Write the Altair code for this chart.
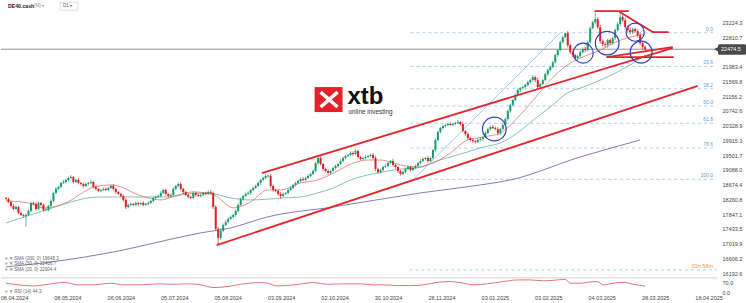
import altair as alt
import pandas as pd

FONT = "Liberation Sans"
W, H1, H2 = 717, 276, 15

# ---------------- data ----------------
OPEN_FIRST = 18300
CLOSE = [
    18276, 18192, 18080, 17996, 18052, 17884, 17828, 17800, 17828, 17940,
    18164, 18136, 17996, 18164, 18108, 17968, 17968, 18080, 18220, 18444,
    18556, 18612, 18724, 18752, 18808, 18864, 18892, 18752, 18808, 18724,
    18696, 18640, 18696, 18724, 18752, 18612, 18556, 18500, 18528, 18556,
    18528, 18584, 18640, 18556, 18472, 18416, 18360, 18248, 18052, 18108,
    18136, 18108, 18164, 18136, 18164, 18108, 18136, 18164, 18220, 18304,
    18332, 18360, 18444, 18528, 18416, 18360, 18388, 18556, 18640, 18696,
    18556, 18472, 18388, 18332, 18304, 18444, 18388, 18360, 18388, 18444,
    18416, 18472, 18444, 18052, 17436, 17184, 17380, 17548, 17632, 17716,
    17772, 17828, 17940, 18108, 18276, 18360, 18416, 18444, 18528, 18584,
    18640, 18724, 18808, 18864, 18920, 18920, 18640, 18528, 18500, 18416,
    18360, 18416, 18444, 18528, 18584, 18668, 18724, 18780, 18836, 18808,
    18864, 18920, 18976, 19060, 19284, 19424, 19256, 19116, 19060, 19004,
    19060, 19144, 19200, 19256, 19340, 19424, 19480, 19508, 19564, 19536,
    19620, 19452, 19396, 19424, 19452, 19480, 19508, 19424, 19116, 19032,
    19088, 19172, 19200, 19284, 19340, 19228, 19172, 19060, 18976, 19032,
    19116, 19172, 19088, 19144, 19200, 19284, 19340, 19396, 19424, 19340,
    19424, 19648, 19928, 20152, 20264, 20320, 20348, 20376, 20348, 20376,
    20404, 20432, 20376, 20180, 20096, 19984, 19928, 19900, 19872, 19928,
    19956, 20012, 20124, 20236, 20292, 20264, 20236, 20124, 20236, 20348,
    20516, 20740, 20908, 21048, 21188, 21328, 21384, 21412, 21468, 21552,
    21608, 21692, 21608, 21412, 21496, 21608, 21776, 21888, 21972, 22112,
    22308, 22448, 22672, 22812, 22924, 22588, 22392, 22308, 22224, 22280,
    22392, 22476, 22448, 22672, 23064, 23232, 23316, 23092, 22700, 22616,
    22588, 22728, 22644, 22784, 23008, 23176, 23372, 23288, 23092, 23008,
    22952, 23036, 22980, 22868, 22644, 22532, 22474.5,
]
WICK_UP = [
    30, 40, 30, 50, 40, 30, 40, 30, 40, 50,
    40, 30, 60, 40, 30, 40, 50, 30, 40, 30,
    50, 40, 30, 60, 40, 40, 50, 30, 40, 50,
    30, 40, 40, 30, 50, 30, 40, 30, 40, 40,
    40, 30, 40, 50, 30, 40, 30, 40, 50, 30,
    40, 30, 40, 30, 40, 50, 30, 40, 30, 40,
    30, 40, 50, 30, 40, 30, 40, 50, 30, 40,
    50, 40, 30, 40, 30, 40, 30, 40, 50, 30,
    30, 40, 60, 40, 50, 60, 80, 40, 50, 40,
    40, 30, 50, 40, 40, 30, 40, 50, 30, 40,
    40, 50, 30, 40, 50, 40, 60, 40, 30, 40,
    60, 40, 30, 40, 50, 30, 40, 30, 40, 50,
    30, 40, 40, 50, 40, 60, 50, 30, 40, 40,
    30, 40, 30, 40, 50, 40, 30, 40, 50, 40,
    50, 40, 30, 40, 50, 30, 40, 50, 60, 40,
    40, 30, 50, 40, 30, 60, 40, 30, 40, 50,
    40, 50, 30, 40, 40, 30, 50, 40, 30, 60,
    40, 30, 50, 40, 30, 40, 50, 30, 40, 30,
    40, 50, 30, 60, 40, 50, 30, 40, 30, 50,
    40, 30, 50, 40, 30, 60, 40, 50, 30, 40,
    40, 50, 40, 30, 40, 50, 30, 40, 50, 40,
    40, 60, 40, 70, 40, 30, 40, 50, 40, 30,
    40, 30, 50, 40, 15, 60, 40, 50, 40, 50,
    40, 50, 60, 40, 50, 40, 184, 60, 70, 50,
    60, 40, 50, 40, 50, 60, 158, 60, 70, 50,
    60, 50, 40, 60, 70, 40, 50,
]
WICK_DN = [
    40, 30, 50, 40, 30, 40, 30, 40, 308, 30,
    30, 40, 50, 30, 40, 50, 30, 40, 30, 40,
    40, 30, 40, 30, 50, 40, 30, 40, 30, 40,
    40, 50, 30, 40, 30, 50, 40, 30, 40, 30,
    30, 40, 30, 40, 50, 30, 40, 50, 60, 40,
    40, 30, 40, 50, 30, 40, 30, 40, 30, 40,
    50, 30, 40, 30, 40, 50, 30, 40, 30, 40,
    40, 50, 30, 40, 30, 40, 50, 30, 40, 30,
    40, 30, 40, 60, 60, 196, 50, 40, 30, 40,
    30, 40, 50, 40, 30, 40, 30, 40, 50, 40,
    30, 40, 50, 30, 40, 40, 60, 50, 40, 50,
    80, 40, 30, 40, 30, 40, 50, 30, 40, 30,
    40, 30, 40, 30, 40, 50, 40, 60, 40, 50,
    40, 30, 40, 50, 30, 40, 40, 30, 40, 50,
    40, 50, 40, 30, 40, 30, 40, 50, 60, 50,
    50, 40, 30, 40, 30, 40, 50, 60, 40, 30,
    40, 30, 50, 40, 30, 40, 40, 30, 40, 50,
    30, 40, 40, 30, 40, 50, 30, 40, 30, 40,
    40, 30, 50, 40, 50, 60, 40, 50, 40, 30,
    40, 50, 30, 40, 50, 30, 40, 60, 50, 40,
    30, 40, 50, 40, 30, 40, 50, 40, 30, 40,
    50, 40, 60, 50, 40, 30, 40, 50, 40, 30,
    40, 50, 30, 40, 30, 60, 50, 60, 50, 40,
    50, 40, 60, 40, 50, 40, 60, 50, 70, 60,
    60, 70, 50, 40, 50, 40, 60, 50, 70, 60,
    60, 50, 40, 70, 60, 70, 50,
]

SMA20_IDX = [0, 8.8, 15.2, 24.8, 31.2, 35.2, 42, 46, 51.2, 56.8, 62, 68.8, 75.2, 83.2,
             91.2, 98, 104.8, 110, 118, 124.8, 131.2, 139.2, 144.8, 150, 158, 164.8,
             171.2, 178, 184.8, 191.2, 198, 204.8, 211.2, 218, 224.8, 230, 238, 246, 256]
SMA20_VAL = [18220, 18164, 18024, 18192, 18472, 18612, 18668, 18612, 18444, 18304, 18248,
             18388, 18472, 18388, 18024, 18192, 18528, 18528, 18724, 18808, 19004, 19284,
             19368, 19368, 19228, 19172, 19284, 19564, 19928, 20012, 20124, 20544, 21048,
             21608, 22028, 22224, 22448, 22728, 22896]

SMA50_IDX = [0, 16, 24.8, 32.8, 38, 51.2, 64.8, 72.8, 80.8, 90, 98, 111.2, 118, 124.8,
             131.2, 138, 144.8, 151.2, 158, 164.8, 171.2, 178, 184.8, 191.2, 198, 204.8,
             211.2, 218, 224.8, 231.2, 244.8, 256]
SMA50_VAL = [17604, 17968, 18164, 18304, 18332, 18332, 18332, 18416, 18444, 18304, 18248,
             18304, 18332, 18444, 18584, 18808, 18948, 19032, 19116, 19144, 19312, 19452,
             19592, 19732, 19844, 20124, 20488, 20852, 21244, 21412, 21832, 22300]

SMA200_IDX = [0, 15.2, 47.2, 64.8, 78, 90, 104.8, 131.2, 166, 190, 202, 230, 254]
SMA200_VAL = [16372, 16484, 16848, 17128, 17324, 17464, 17772, 18052, 18444, 18668, 18808,
              19452, 19928]

RSI_IDX = [0, 4.8, 11.2, 18, 23.2, 28.8, 35.2, 42, 47.2, 54, 60.8, 67.2, 72.8, 78, 83.2,
           88.8, 94, 102, 104.8, 108.8, 115.2, 123.2, 128.8, 135.2, 142, 147.2, 151.2,
           156.8, 162, 167.2, 172.8, 178, 183.2, 187.2, 192.8, 199.2, 204.8, 210, 215.2,
           220.8, 224, 226, 230, 232.8, 236.8, 239.2, 243.2, 247.2, 251.2, 256]
RSI_VAL = [64, 53, 46, 60, 70, 53, 53, 64, 53, 53, 60, 57, 60, 53, 35, 42, 57, 68, 64, 46,
           53, 68, 57, 60, 60, 53, 53, 48, 48, 53, 70, 75, 64, 53, 60, 75, 86, 86, 80, 86,
           90, 64, 64, 70, 75, 53, 64, 70, 57, 44]

DATE_LABELS = ["08.04.2024", "08.05.2024", "06.06.2024", "05.07.2024", "05.08.2024",
               "03.09.2024", "02.10.2024", "30.10.2024", "28.11.2024", "03.01.2025",
               "03.02.2025", "04.03.2025", "28.03.2025", "18.04.2025"]
DATE_POS = [3.2, 24.6, 46.0, 67.4, 88.8, 110.2, 131.6, 153.0, 174.4, 195.8, 217.2,
            238.6, 260.0, 281.4]

PRICE_TICKS = [23224.3, 22810.7, 21983.4, 21569.8, 21156.2, 20742.6, 20328.9, 19915.3,
               19501.7, 19088.0, 18674.4, 18260.8, 17847.1, 17433.5, 17019.9, 16606.2,
               16192.6]
RSI_TICKS = [0.0, 70.0]
LAST_PRICE = 22474.5

FIB_LABELS = ["0.0", "23.6", "38.2", "50.0", "61.8", "78.6", "100.0"]
FIB_VALUES = [22937, 21990, 21366, 20881, 20396, 19705, 18825]
FIB_START, FIB_END = 162, 284
EXTRA_LEVEL = 16288
EXTRA_START = 161.6

DIAG_X = [163.2, 222]
DIAG_Y = [18825, 22937]

TREND_X1 = [84.7, 102.8, 236, 246, 259.2, 240.8, 240.8]
TREND_Y1 = [16988, 19004, 23540, 23512, 22952, 22252, 22252]
TREND_X2 = [276.8, 266.8, 249.2, 259.2, 265.2, 267.2, 266.8]
TREND_Y2 = [21440, 22504, 23540, 22952, 22952, 22252, 22532]

CIRCLE_IDX = [195.6, 231.2, 240.8, 252, 254.4]
CIRCLE_VAL = [20236, 22364, 22644, 22952, 22392]
CIRCLE_SIZE = [560, 400, 560, 330, 480]

LEGEND_LINES = ["≡ ✕ SMA (200, 0) 19648.3", "≡ ✕ SMA (50, 0) 22406.7", "≡ ✕ SMA (20, 0) 22904.4"]
RSI_LEGEND = "≡ ✕ RSI (14) 44.3"

# ---------------- tables ----------------
opens = [OPEN_FIRST] + CLOSE[:-1]
rows = []
for i, (o, c, wu, wd) in enumerate(zip(opens, CLOSE, WICK_UP, WICK_DN)):
    lo_b, hi_b = min(o, c), max(o, c)
    if hi_b - lo_b < 20:
        mid = (o + c) / 2
        lo_b, hi_b = mid - 10, mid + 10
    rows.append(dict(i=i, xl=i - 0.4, xr=i + 0.4, b1=lo_b, b2=hi_b,
                     high=max(o, c) + wu, low=min(o, c) - wd,
                     dir="up" if c >= o else "down"))
candles = pd.DataFrame(rows)

XS = alt.Scale(domain=[-2, 284.8], nice=False, zero=False)
YS = alt.Scale(domain=[16120, 23848], nice=False, zero=False)
RS = alt.Scale(domain=[0, 100], nice=False, zero=False)
ONE = pd.DataFrame({"k": [0]})

PRICE_AXIS = alt.Axis(orient="right", values=PRICE_TICKS, format=".1f", ticks=False,
                      domain=False, grid=False, labelPadding=5, labelFontSize=5.5,
                      labelColor="#444", labelFont=FONT, title=None, labelOverlap=False)


def X(f):
    return alt.X(f, type="quantitative", scale=XS, axis=None)


def Y(f):
    return alt.Y(f, type="quantitative", scale=YS, axis=PRICE_AXIS)


def txt(s, x, y, size=5.5, color="#444", align="left", weight="normal", font=FONT):
    return alt.Chart(ONE).mark_text(text=s, align=align, baseline="middle", fontSize=size,
                                     color=color, fontWeight=weight, font=font).encode(
        x=alt.value(x), y=alt.value(y))


layers = []

fib = pd.DataFrame({"v": FIB_VALUES, "lab": FIB_LABELS, "x1": FIB_START, "x2": FIB_END})
layers.append(alt.Chart(fib).mark_rule(color="#93c8ea", strokeWidth=0.8, strokeDash=[3, 3]).encode(
    x=X("x1"), x2="x2", y=Y("v")))
layers.append(alt.Chart(pd.DataFrame({"v": [EXTRA_LEVEL], "x1": [EXTRA_START], "x2": [284.8]}))
              .mark_rule(color="#8fc3ea", strokeWidth=0.8, strokeDash=[3, 3]).encode(
    x=X("x1"), x2="x2", y=Y("v")))
layers.append(alt.Chart(pd.DataFrame({"v": [LAST_PRICE]})).mark_rule(color="#777", strokeWidth=0.8)
              .encode(x=alt.value(0), x2=alt.value(W), y=Y("v")))

for idx, val, col, sw in [(SMA200_IDX, SMA200_VAL, "#5b5fa6", 0.8),
                          (SMA50_IDX, SMA50_VAL, "#4fa98d", 0.7),
                          (SMA20_IDX, SMA20_VAL, "#df5f58", 0.7)]:
    layers.append(alt.Chart(pd.DataFrame({"i": idx, "v": val})).mark_line(
        color=col, strokeWidth=sw, interpolate="monotone").encode(x=X("i"), y=Y("v")))

layers.append(alt.Chart(pd.DataFrame({"x1": [DIAG_X[0]], "x2": [DIAG_X[1]], "y1": [DIAG_Y[0]], "y2": [DIAG_Y[1]]}))
              .mark_rule(color="#7dc1ea", strokeWidth=0.8).encode(x=X("x1"), x2="x2", y=Y("y1"), y2="y2"))

ccol = alt.Color("dir:N", scale=alt.Scale(domain=["up", "down"], range=["#1d9b6c", "#d8232a"]), legend=None)
layers.append(alt.Chart(candles).mark_rule(strokeWidth=0.7).encode(
    x=X("i"), y=Y("low"), y2="high", color=ccol))
layers.append(alt.Chart(candles).mark_rect().encode(x=X("xl"), x2="xr", y=Y("b1"), y2="b2", color=ccol))

trend = pd.DataFrame({"x1": TREND_X1, "y1": TREND_Y1, "x2": TREND_X2, "y2": TREND_Y2})
layers.append(alt.Chart(trend).mark_rule(color="#e3262d", strokeWidth=1.8, strokeCap="round").encode(
    x=X("x1"), x2="x2", y=Y("y1"), y2="y2"))

circ = pd.DataFrame({"i": CIRCLE_IDX, "v": CIRCLE_VAL, "s": CIRCLE_SIZE})
layers.append(alt.Chart(circ).mark_point(shape="circle", filled=False, color="#3442c0", strokeWidth=1.2,
                                         opacity=1).encode(
    x=X("i"), y=Y("v"), size=alt.Size("s:Q", scale=None, legend=None)))

layers.append(alt.Chart(fib).mark_text(align="right", baseline="middle", dy=-4, fontSize=5,
                                       color="#5c9fd6", font=FONT).encode(
    x=alt.value(713), y=Y("v"), text="lab:N"))

layers.append(txt("01h:58m", 713, 266, size=5.5, color="#e8a03a", align="right"))
for k, s in enumerate(LEGEND_LINES):
    layers.append(txt(s, 4, 259 + 5.6 * k, size=4.6, color="#666"))

# logo
layers.append(alt.Chart(ONE).mark_rect(color="#e4202a").encode(
    x=alt.value(314), x2=alt.value(342), y=alt.value(87), y2=alt.value(112)))
for (a, b, c, d) in [(320, 92, 337, 107), (337, 92, 320, 107)]:
    layers.append(alt.Chart(ONE).mark_rule(color="white", strokeWidth=3.5).encode(
        x=alt.value(a), y=alt.value(b), x2=alt.value(c), y2=alt.value(d)))
layers.append(alt.Chart(ONE).mark_text(text="xtb", align="left", baseline="alphabetic", fontSize=24,
                                       fontWeight="bold", color="#111", font=FONT).encode(
    x=alt.value(347), y=alt.value(104)))
layers.append(txt("online investing", 348, 112, size=6.4, color="#333"))

# toolbar
layers.append(txt("DE40.cash", 7, 6, size=5.2, color="#222", weight="bold"))
layers.append(txt("(M)  ▾", 33, 6, size=4.5, color="#888"))
layers.append(alt.Chart(ONE).mark_rect(fill="white", stroke="#ccc", strokeWidth=0.6).encode(
    x=alt.value(59), x2=alt.value(77), y=alt.value(2), y2=alt.value(10)))
layers.append(txt("D1  ▾", 62, 6, size=4.5, color="#555"))

# last price box
layers.append(alt.Chart(ONE).mark_rect(color="#4a4a4a", cornerRadius=1.5).encode(
    x=alt.value(718), x2=alt.value(746), y=alt.value(44), y2=alt.value(54.5)))
layers.append(alt.Chart(ONE).mark_point(shape="triangle-left", filled=True, color="#4a4a4a", size=30,
                                        opacity=1).encode(x=alt.value(716.5), y=alt.value(49.2)))
layers.append(txt("22474.5", 721, 49.3, size=5.5, color="white"))

top = alt.layer(*layers).properties(width=W, height=H1)

# ---------------- RSI panel ----------------
arr = "[" + ",".join("'%s'" % d for d in DATE_LABELS) + "]"
step = DATE_POS[1] - DATE_POS[0]
lab_expr = "%s[round((datum.value - %s) / %s)]" % (arr, DATE_POS[0], step)

rsi = pd.DataFrame({"i": RSI_IDX, "v": RSI_VAL})
r_layers = [
    alt.Chart(ONE).mark_rule(color="#c8c8c8", strokeWidth=0.8).encode(
        x=alt.value(0), x2=alt.value(W), y=alt.value(0)),
    alt.Chart(rsi).mark_line(color="#d9534f", strokeWidth=0.8, interpolate="monotone").encode(
        x=alt.X("i:Q", scale=XS, axis=alt.Axis(values=DATE_POS, labelExpr=lab_expr, ticks=False,
                                               domain=False, grid=False, labelFontSize=5.5,
                                               labelColor="#444", labelFont=FONT, labelPadding=3,
                                               title=None, labelOverlap=False, labelFlush=False)),
        y=alt.Y("v:Q", scale=RS, axis=alt.Axis(orient="right", values=RSI_TICKS, format=".1f",
                                               ticks=False, domain=False, grid=False,
                                               labelPadding=5, labelFontSize=5.5, labelColor="#444",
                                               labelFont=FONT, title=None, labelOverlap=False))),
    txt(RSI_LEGEND, 4, 14, size=4.6, color="#666"),
]
bottom = alt.layer(*r_layers).properties(width=W, height=H2)

chart = alt.vconcat(top, bottom, spacing=0).properties(padding=0, background="white").configure_view(
    stroke=None)

chart.save("out.html", embed_options={"renderer": "svg", "actions": False})
